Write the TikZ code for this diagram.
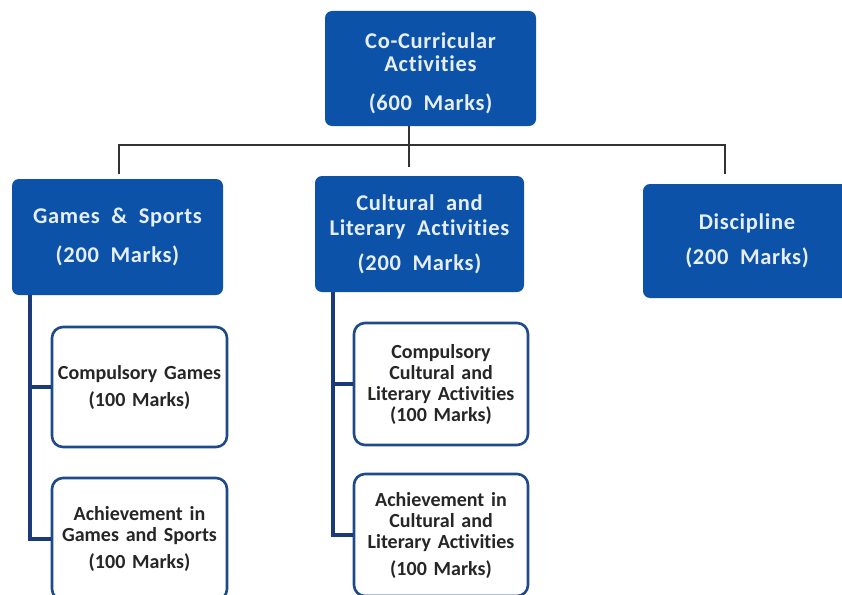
\documentclass[tikz,border=0pt]{standalone}
\usepackage{fontspec}
\setmainfont{Carlito}
\newfontfamily\boxfont{Carlito}[LetterSpace=3,WordSpace=2.0,Ligatures=CommonOff]
\newfontfamily\childfont{Carlito}[WordSpace=1.5,Ligatures=CommonOff]
\definecolor{boxblue}{HTML}{0B52A8}
\definecolor{boxtext}{HTML}{E6EEF8}
\definecolor{childborder}{HTML}{1E4A8A}
\definecolor{childline}{HTML}{1A3A7A}
\definecolor{topline}{HTML}{333333}
\tikzset{
  mainbox/.style={rectangle, rounded corners=7pt, fill=boxblue, draw=none,
    text=boxtext, align=center, inner sep=0pt,
    font=\boxfont\bfseries\fontsize{22.5}{25}\selectfont},
  childbox/.style={rectangle, rounded corners=11pt, fill=white, draw=childborder,
    line width=2.6pt, text=black!85, align=center, inner sep=0pt,
    minimum width=175pt, minimum height=120pt,
    font=\childfont\bfseries\fontsize{20}{21}\selectfont},
  topconn/.style={draw=topline, line width=2pt},
  childconn/.style={draw=childline, line width=3.2pt},
}
\begin{document}
\begin{tikzpicture}[x=1pt,y=-1pt]
\useasboundingbox (0,0) rectangle (842,594);
\clip (0,0) rectangle (842,594);
\fill[white] (0,0) rectangle (842,594);
% main boxes
\node[mainbox, minimum width=211pt, minimum height=115pt] (top) at (430.5,68.5)
  {\rule{0pt}{26pt}Co-Curricular\\[-2pt]Activities\\[14pt](600 Marks)};
\node[mainbox, minimum width=211pt, minimum height=116pt] (games) at (117.5,237)
  {Games \& Sports\\[14pt](200 Marks)};
\node[mainbox, minimum width=209pt, minimum height=116pt] (cult) at (419.5,234)
  {Cultural and\\Literary Activities\\[10pt](200 Marks)};
\node[mainbox, minimum width=208pt, minimum height=114pt] (disc) at (747,241)
  {Discipline\\[10pt](200 Marks)};
% child boxes
\node[childbox] (gc1) at (139.5,387) {Compulsory Games\\[6pt](100 Marks)};
\node[childbox, minimum height=122pt] (gc2) at (139.5,539)
  {Achievement in\\Games and Sports\\[6pt](100 Marks)};
\node[childbox, minimum width=174pt, minimum height=122pt] (cc1) at (441,384)
  {Compulsory\\Cultural and\\Literary Activities\\(100 Marks)};
\node[childbox, minimum width=174pt, minimum height=122pt] (cc2) at (441,535)
  {Achievement in\\Cultural and\\Literary Activities\\[6pt](100 Marks)};
% top connectors
\coordinate (j) at (409,145);
\coordinate (jl) at (119,145);
\coordinate (jr) at (725,145);
\draw[topconn] (top.south -| j) -- ([yshift=9pt]j |- cult.north);
\draw[topconn] ([yshift=5pt]jl |- games.north) -- (jl) -- (jr) -- ([yshift=10pt]jr |- disc.north);
% child connectors
\coordinate (gl) at (30,0);
\coordinate (cl) at (333,0);
\draw[childconn] (gl |- games.south) |- (gc2.west);
\draw[childconn] (gl |- gc1.west) -- (gc1.west);
\draw[childconn] (cl |- cult.south) |- (cc2.west);
\draw[childconn] (cl |- cc1.west) -- (cc1.west);
\end{tikzpicture}
\end{document}
